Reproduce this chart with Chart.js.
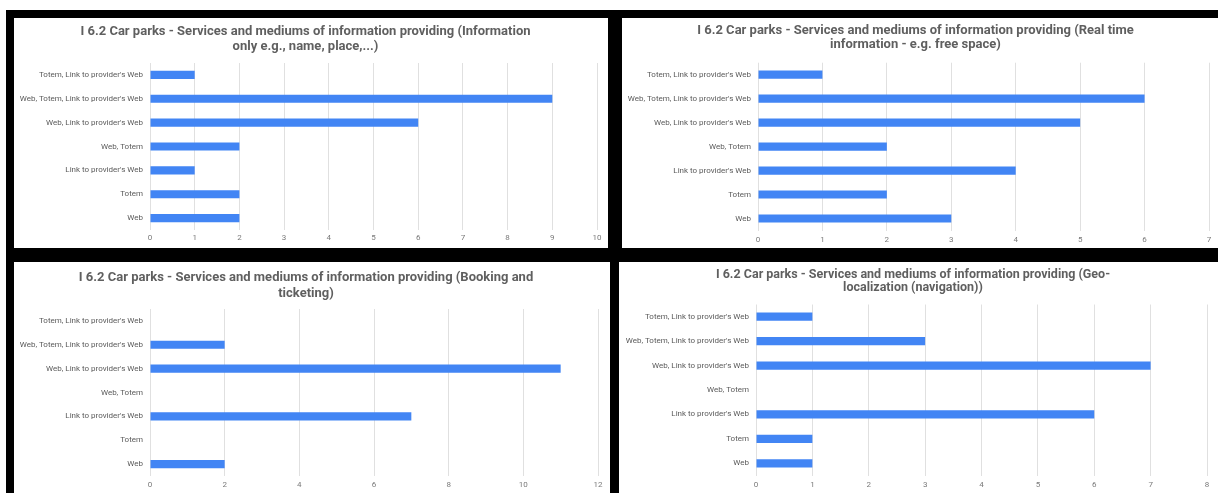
<!DOCTYPE html>
<html>
<head>
<meta charset="utf-8">
<title>Car parks - Services and mediums of information providing</title>
<script src="https://cdn.jsdelivr.net/npm/chart.js@4.4.1/dist/chart.umd.min.js"></script>
<style>
  html, body { margin: 0; padding: 0; background: #ffffff; }
  body { width: 1218px; height: 493px; position: relative; overflow: hidden; }
  #frame { position: absolute; left: 6px; top: 10px; width: 1212px; height: 483px; background: #000000; }
  .panel { position: absolute; background: #ffffff; }
</style>
</head>
<body>
<div id="frame"></div>
<div class="panel" style="left:14px;top:18px;width:594px;height:230px"><canvas id="chartInfo"></canvas></div>
<div class="panel" style="left:622px;top:18px;width:596px;height:230px"><canvas id="chartRealTime"></canvas></div>
<div class="panel" style="left:14px;top:262px;width:596px;height:231px"><canvas id="chartBooking"></canvas></div>
<div class="panel" style="left:619px;top:262px;width:599px;height:231px"><canvas id="chartGeo"></canvas></div>
<script>
const categories = [
  "Totem, Link to provider's Web",
  "Web, Totem, Link to provider's Web",
  "Web, Link to provider's Web",
  "Web, Totem",
  "Link to provider's Web",
  "Totem",
  "Web"
];

// answers per medium, one list per service
const infoOnly = [1, 9, 6, 2, 1, 2, 2];
const realTime = [1, 6, 5, 2, 4, 2, 3];
const booking = [0, 2, 11, 0, 7, 0, 2];
const geoNav = [1, 3, 7, 0, 6, 1, 1];

const titleInfo = ["I 6.2 Car parks - Services and mediums of information providing (Information", "only e.g., name, place,...)"];
const titleRealTime = ["I 6.2 Car parks - Services and mediums of information providing (Real time", "information - e.g. free space)"];
const titleBooking = ["I 6.2 Car parks - Services and mediums of information providing (Booking and", "ticketing)"];
const titleGeo = ["I 6.2 Car parks - Services and mediums of information providing (Geo-", "localization (navigation))"];

// x axis ranges: max and step of the value ticks
const axisMax = [10, 7, 12, 8];
const axisStep = [1, 1, 2, 1];

const FONT = "Roboto, 'Liberation Sans', sans-serif";
const BAR_BLUE = "#4285f4";
const GRID = "#e0e0e0";

function drawPanel(id, title, values, max, step, box) {
  const lineH = box.titleSize * box.lineHeight;
  const titlePadBottom = box.gridTop - box.titleTop - lineH * title.length;

  new Chart(document.getElementById(id), {
    type: "bar",
    data: {
      labels: categories,
      datasets: [{
        data: values,
        backgroundColor: BAR_BLUE,
        borderWidth: 0,
        categoryPercentage: 1,
        barPercentage: 0.34
      }]
    },
    options: {
      indexAxis: "y",
      responsive: true,
      maintainAspectRatio: false,
      animation: false,
      layout: { padding: { left: 0, right: box.padRight, top: 0, bottom: 0 } },
      plugins: {
        legend: { display: false },
        tooltip: { enabled: false },
        title: {
          display: true,
          text: title,
          color: "#5f5f5f",
          font: { family: FONT, size: box.titleSize, weight: "bold", lineHeight: box.lineHeight },
          padding: { top: box.titleTop, bottom: titlePadBottom }
        }
      },
      scales: {
        x: {
          min: 0,
          max: max,
          border: { display: false },
          grid: { color: GRID, drawTicks: false },
          ticks: {
            stepSize: step,
            padding: box.tickPad,
            color: "#7a7a7a",
            font: { family: FONT, size: 8 }
          },
          afterFit: (scale) => { scale.height = box.axisH; }
        },
        y: {
          border: { display: false },
          grid: { display: false, drawTicks: false },
          ticks: {
            padding: 7,
            color: "#5a5a5a",
            font: { family: FONT, size: 8 }
          },
          afterFit: (scale) => { scale.width = box.plotLeft; }
        }
      }
    }
  });
}

drawPanel("chartInfo", titleInfo, infoOnly, axisMax[0], axisStep[0],
  { titleSize: 13, lineHeight: 1.18, titleTop: 6, gridTop: 45, plotLeft: 136, padRight: 11, axisH: 18, tickPad: 3 });
drawPanel("chartRealTime", titleRealTime, realTime, axisMax[1], axisStep[1],
  { titleSize: 13, lineHeight: 1.1, titleTop: 5.5, gridTop: 44.7, plotLeft: 136, padRight: 9, axisH: 17.5, tickPad: 4.5 });
drawPanel("chartBooking", titleBooking, booking, axisMax[2], axisStep[2],
  { titleSize: 13, lineHeight: 1.23, titleTop: 7.5, gridTop: 47, plotLeft: 136, padRight: 12, axisH: 17, tickPad: 4 });
drawPanel("chartGeo", titleGeo, geoNav, axisMax[3], axisStep[3],
  { titleSize: 12.5, lineHeight: 1.0, titleTop: 7, gridTop: 42.5, plotLeft: 137, padRight: 11, axisH: 17.5, tickPad: 4.5 });
</script>
</body>
</html>
